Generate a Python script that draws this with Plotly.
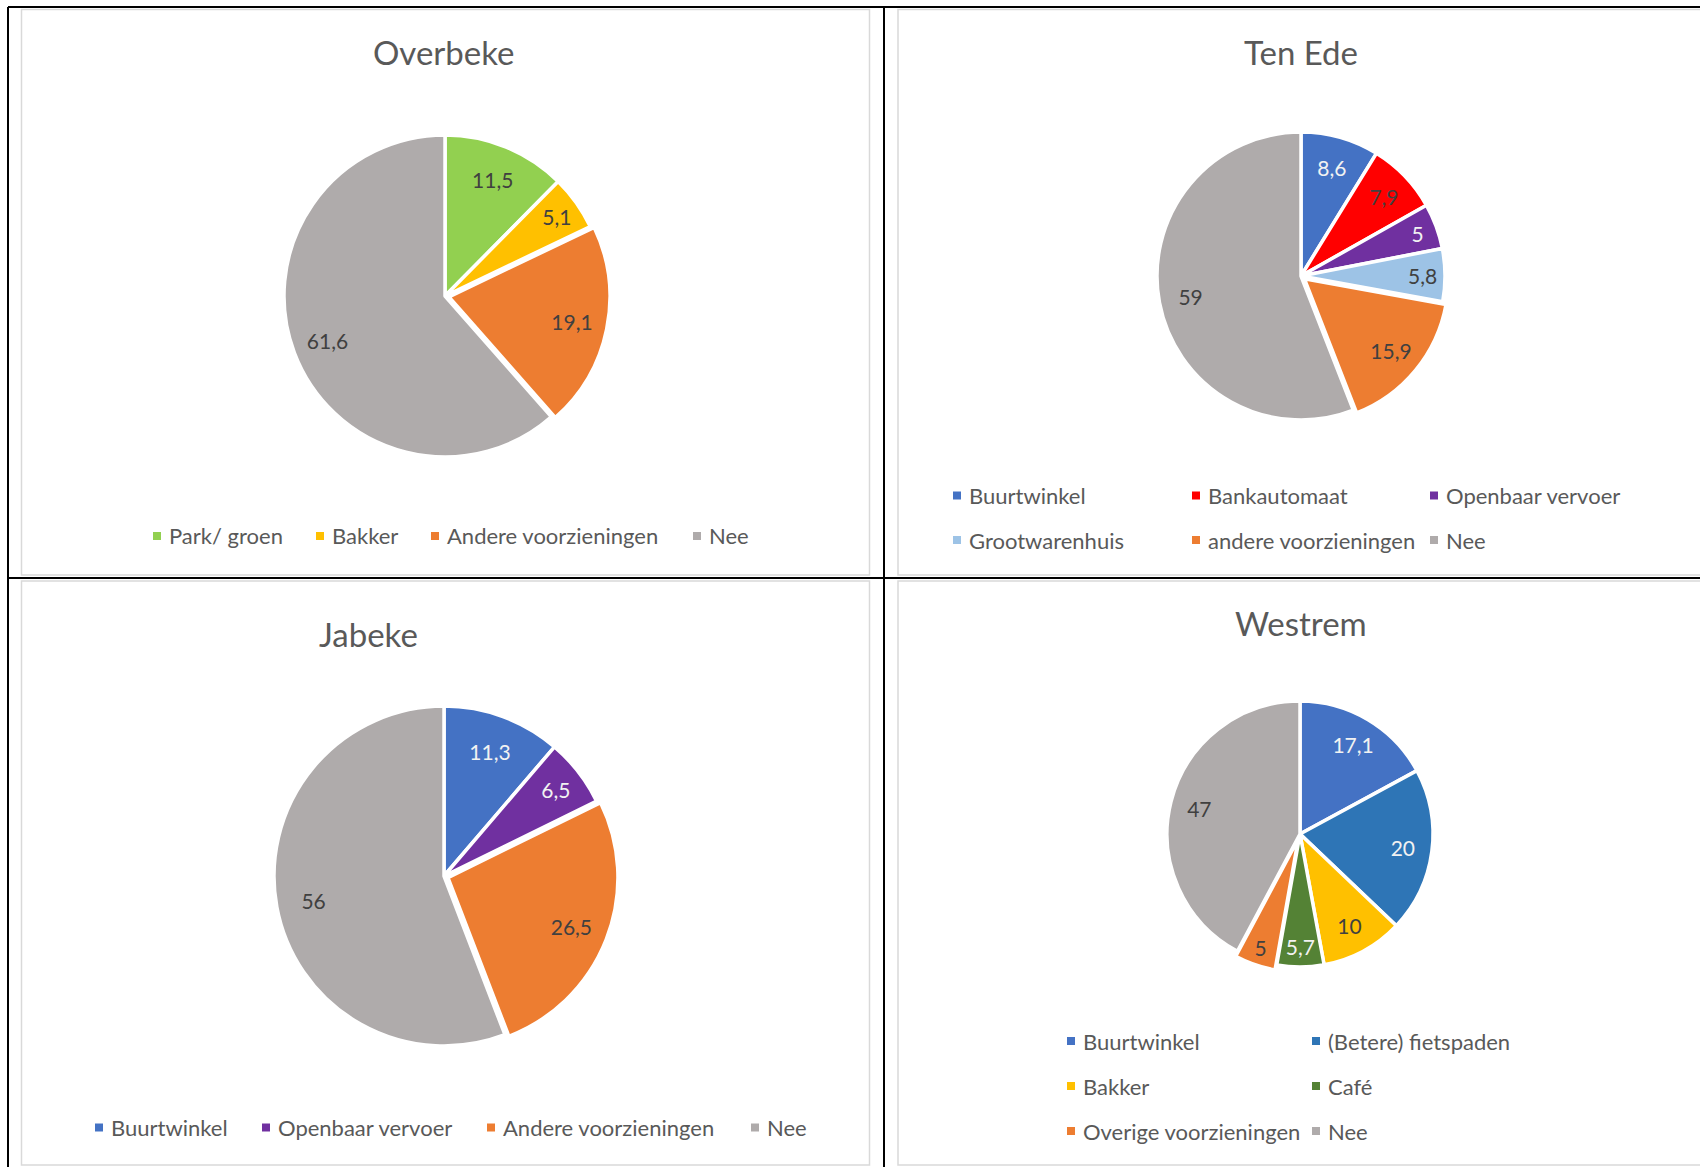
import plotly.graph_objects as go

W, H = 1700, 1167

# ---------------- data ----------------
# printed data labels (as written on the slices)
overbeke_labels = ["Park/ groen", "Bakker", "Andere voorzieningen", "Nee"]
overbeke_values = [11.5, 5.1, 19.1, 61.6]
# slice sizes as drawn in the picture (the "Nee" slice is drawn smaller than its label)
overbeke_drawn = [11.5, 5.1, 19.1, 57]
overbeke_colors = ["#92D050", "#FFC000", "#ED7D31", "#AFABAB"]

tenede_labels = ["Buurtwinkel", "Bankautomaat", "Openbaar vervoer",
                 "Grootwarenhuis", "andere voorzieningen", "Nee"]
tenede_values = [8.6, 7.9, 5, 5.8, 15.9, 59]
tenede_drawn = [8.6, 7.9, 5, 5.8, 15.9, 54.8]
tenede_colors = ["#4472C4", "#FF0000", "#7030A0", "#9DC3E6", "#ED7D31", "#AFABAB"]

jabeke_labels = ["Buurtwinkel", "Openbaar vervoer", "Andere voorzieningen", "Nee"]
jabeke_values = [11.3, 6.5, 26.5, 56]
jabeke_drawn = [11.3, 6.5, 26.5, 56]
jabeke_colors = ["#4472C4", "#7030A0", "#ED7D31", "#AFABAB"]

westrem_labels = ["Buurtwinkel", "(Betere) fietspaden", "Bakker", "Café",
                  "Overige voorzieningen", "Nee"]
westrem_values = [17.1, 20, 10, 5.7, 5, 47]
westrem_drawn = [17.1, 20, 10, 5.7, 5, 42.2]
westrem_colors = ["#4472C4", "#2E75B6", "#FFC000", "#548235", "#ED7D31", "#AFABAB"]

titles = ["Overbeke", "Ten Ede", "Jabeke", "Westrem"]

LIGHT = "#F2F2F2"
DARK = "#404040"
light_bg = {"#4472C4", "#7030A0", "#2E75B6", "#548235"}

# ---------------- layout (pixels) ----------------
panels = [
    dict(labels=overbeke_labels, values=overbeke_values, drawn=overbeke_drawn,
         colors=overbeke_colors,
         title=titles[0], c=(445, 296), r=161, pull=[0, 0, 0.025, 0],
         tpos=(444, 52),
         legend=[[(157, 536), (320, 536), (435, 536), (697, 536)]]),
    dict(labels=tenede_labels, values=tenede_values, drawn=tenede_drawn,
         colors=tenede_colors,
         title=titles[1], c=(1301, 276), r=144, pull=[0, 0, 0, 0, 0.03, 0],
         tpos=(1301, 52),
         legend=[[(957, 495.5), (1196, 495.5), (1434, 495.5)],
                 [(957, 540), (1196, 540), (1434, 540)]]),
    dict(labels=jabeke_labels, values=jabeke_values, drawn=jabeke_drawn,
         colors=jabeke_colors,
         title=titles[2], c=(444, 876), r=170, pull=[0, 0, 0.025, 0],
         tpos=(368, 634),
         legend=[[(99, 1127.5), (266, 1127.5), (491, 1127.5), (755, 1127.5)]]),
    dict(labels=westrem_labels, values=westrem_values, drawn=westrem_drawn,
         colors=westrem_colors,
         title=titles[3], c=(1300, 834), r=133, pull=[0, 0, 0, 0, 0.04, 0],
         tpos=(1301, 623),
         legend=[[(1071, 1041), (1316, 1041)],
                 [(1071, 1086), (1316, 1086)],
                 [(1071, 1131), (1316, 1131)]]),
]


def fx(x):
    return x / W


def fy(y):
    return 1 - y / H


def fmt(v):
    return f"{v:g}".replace(".", ",")


FONT = "Lato, 'Open Sans', sans-serif"

fig = go.Figure()
shapes = []
annotations = []

for p in panels:
    cx, cy = p["c"]
    s = 2 * p["r"] * (1 + max(p["pull"]))
    dom = dict(x=[fx(cx - s / 2), fx(cx + s / 2)],
               y=[fy(cy + s / 2), fy(cy - s / 2)])
    # coloured slices
    fig.add_trace(go.Pie(
        labels=p["labels"], values=p["drawn"],
        customdata=p["values"],
        textinfo="none",
        marker=dict(colors=p["colors"], line=dict(color="white", width=3.5)),
        pull=p["pull"], sort=False, direction="clockwise", rotation=0,
        showlegend=False, hovertemplate="%{label}: %{customdata}<extra></extra>",
        domain=dom,
    ))
    # data labels: transparent ring on the same slices, so labels sit in the outer band
    fig.add_trace(go.Pie(
        labels=p["labels"], values=p["drawn"],
        text=[fmt(v) for v in p["values"]],
        textinfo="text", textposition="inside",
        insidetextorientation="horizontal",
        insidetextfont=dict(family=FONT, size=21,
                            color=[LIGHT if c in light_bg else DARK for c in p["colors"]]),
        marker=dict(colors=["rgba(0,0,0,0)"] * len(p["values"]),
                    line=dict(width=0)),
        hole=0.56,
        pull=p["pull"], sort=False, direction="clockwise", rotation=0,
        showlegend=False, hoverinfo="skip", domain=dom,
    ))
    # title
    annotations.append(dict(
        text=p["title"], x=fx(p["tpos"][0]), y=fy(p["tpos"][1]),
        xref="paper", yref="paper", xanchor="center", yanchor="middle",
        showarrow=False, font=dict(family=FONT, size=33, color="#595959")))
    # legend (manual, built from the data arrays)
    flat = [pos for row in p["legend"] for pos in row]
    for lab, col, (mx, my) in zip(p["labels"], p["colors"], flat):
        shapes.append(dict(type="rect", xref="paper", yref="paper",
                           x0=fx(mx - 4), x1=fx(mx + 4), y0=fy(my + 4), y1=fy(my - 4),
                           fillcolor=col, line=dict(width=0)))
        annotations.append(dict(
            text=lab, x=fx(mx + 10), y=fy(my), xref="paper", yref="paper",
            xanchor="left", yanchor="middle", showarrow=False,
            font=dict(family=FONT, size=22, color="#595959")))

# panel frames (light gray)
frames = [(21.5, 9.5, 869.5, 575), (898, 9.5, 1703, 575),
          (21.5, 581, 869.5, 1165), (898, 581, 1703, 1165)]
for x0, y0, x1, y1 in frames:
    shapes.append(dict(type="rect", xref="paper", yref="paper",
                       x0=fx(x0), x1=fx(x1), y0=fy(y1), y1=fy(y0),
                       line=dict(color="#D9D9D9", width=1.5), fillcolor="rgba(0,0,0,0)"))

# black table lines
black = [(8, 7, 1700, 7), (8, 578, 1700, 578), (8, 7, 8, 1167), (884, 7, 884, 1167)]
for x0, y0, x1, y1 in black:
    shapes.append(dict(type="line", xref="paper", yref="paper",
                       x0=fx(x0), x1=fx(x1), y0=fy(y0), y1=fy(y1),
                       line=dict(color="black", width=2)))

fig.update_layout(
    width=W, height=H, autosize=False,
    margin=dict(l=0, r=0, t=0, b=0),
    paper_bgcolor="white", plot_bgcolor="white",
    shapes=shapes, annotations=annotations,
    uniformtext=dict(minsize=21, mode="show"),
    font=dict(family=FONT, color="#595959"),
)

fig.write_html("out.html", config={"displayModeBar": False},
               post_script="document.body.style.margin='0px';")
